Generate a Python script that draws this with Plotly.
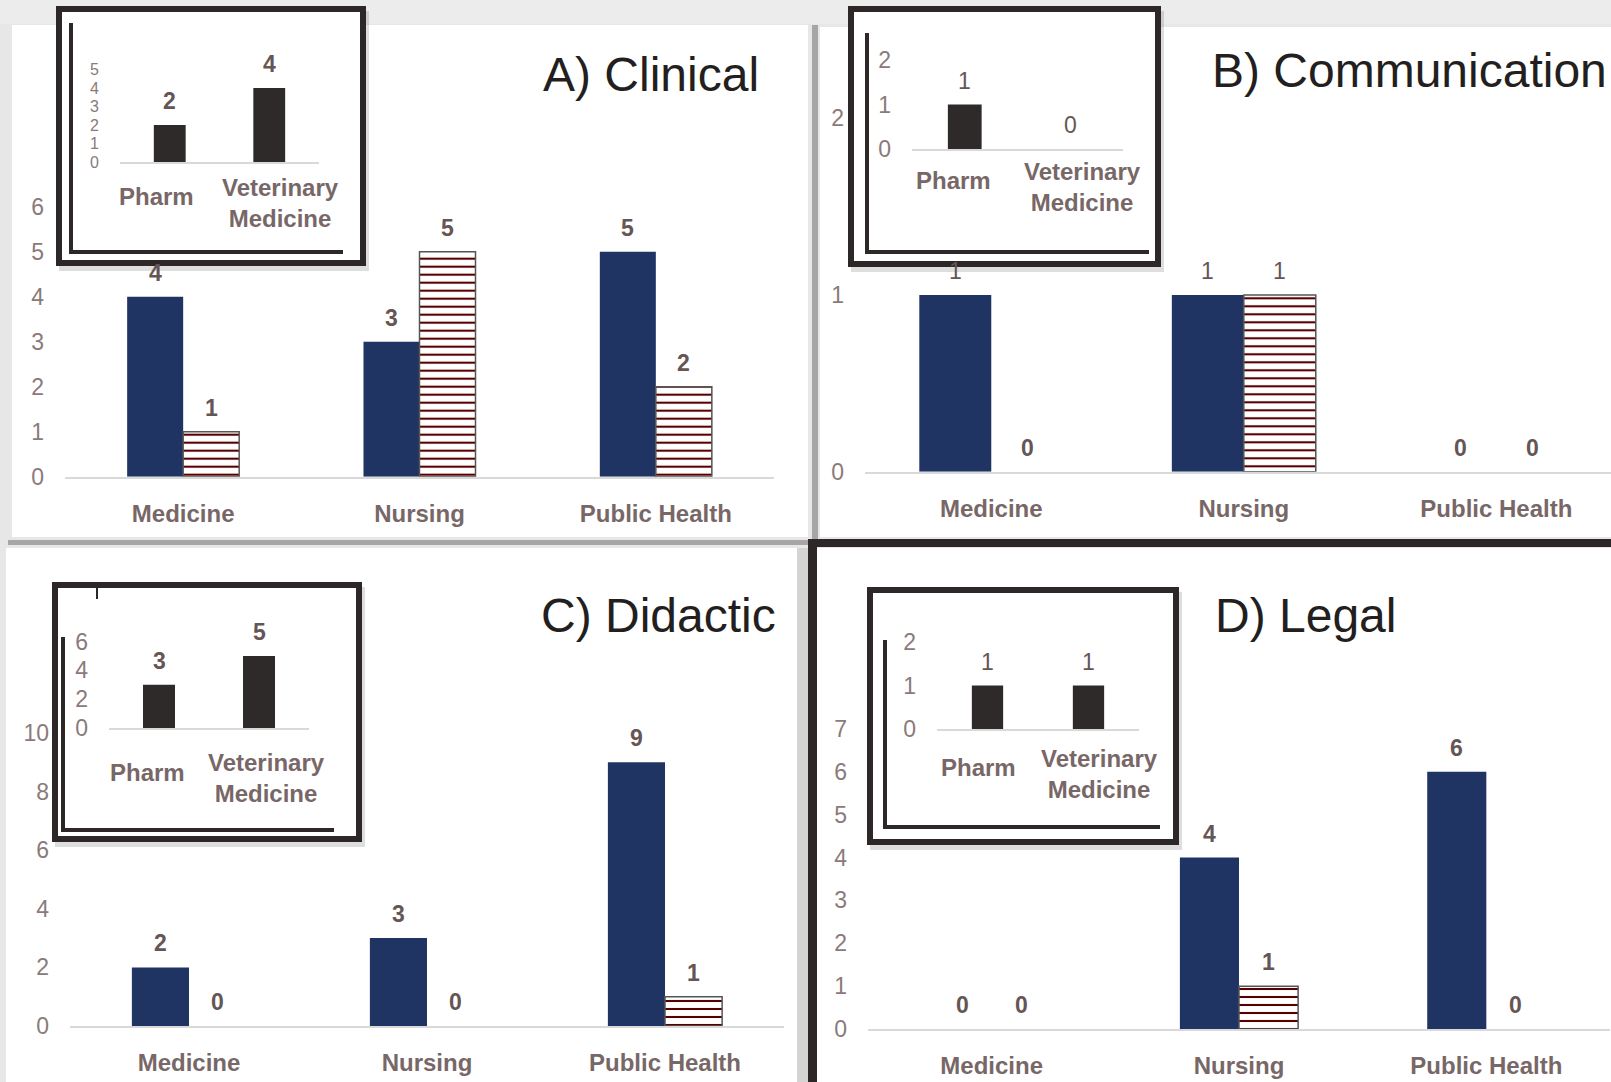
import plotly.graph_objects as go

W, H = 1611, 1082

# ---------------- data ----------------
categories = ["Medicine", "Nursing", "Public Health"]
inset_categories = ["Pharm", "Veterinary<br>Medicine"]

clinical_blue = [4, 3, 5]
clinical_hatch = [1, 5, 2]
clinical_inset = [2, 4]

communication_blue = [1, 1, 0]
communication_hatch = [0, 1, 0]
communication_inset = [1, 0]

didactic_blue = [2, 3, 9]
didactic_hatch = [0, 0, 1]
didactic_inset = [3, 5]

legal_blue = [0, 4, 6]
legal_hatch = [0, 1, 0]
legal_inset = [1, 1]

titles = ["A) Clinical", "B) Communication", "C) Didactic", "D) Legal"]

main_ranges = [(0, 6), (0, 2), (0, 10), (0, 7)]
main_dticks = [1, 1, 2, 1]
inset_ranges = [(0, 5), (0, 2), (0, 6), (0, 2)]
inset_dticks = [1, 1, 2, 1]

# ---------------- styling / layout (pixel geometry) ----------------
NAVY = "#1f3462"
HATCH = "#560000"
INSET_BAR = "#2e2a2a"
DARK = "#2d2727"
TICK_C = "#8a7a7a"
CAT_C = "#786767"
LBL_C = "#655555"
FONT = "Liberation Sans, Arial, sans-serif"

def px(x):
    return x / W

def py(y):
    return 1 - y / H

main_geo = [
    dict(xd=(65, 774), yd=(476.7, 206.7), xr=(-0.5, 2.5), w=0.237),
    dict(xd=(865, 1611), yd=(471.7, 118.3), xr=(-0.5, 2.454), w=0.285),
    dict(xd=(70, 784), yd=(1026, 733), xr=(-0.5, 2.5), w=0.24),
    dict(xd=(868, 1610), yd=(1029, 729), xr=(-0.5, 2.5), w=0.239),
]
inset_geo = [
    dict(xd=(120, 319), yd=(162.3, 69.3), w=0.32, dx=(-0.13, 0.11), dy=(34, 41), tsize=16),
    dict(xd=(912, 1123), yd=(149, 60), w=0.32, dx=(-0.11, 0.12), dy=(31, 38), tsize=23),
    dict(xd=(109, 309), yd=(728, 641.6), w=0.32, dx=(-0.12, 0.07), dy=(44, 50), tsize=23),
    dict(xd=(937, 1139), yd=(729, 642), w=0.31, dx=(-0.09, 0.11), dy=(38, 45), tsize=23),
]
title_pos = [(541, 75), (1210, 70), (539, 615), (1213, 615)]
frames = [(56, 6, 366, 266), (848, 6, 1161, 267), (52, 582, 362, 842), (867, 587, 1179, 845)]
inner_L = [(71, 23, 343, 252), (867, 33, 1149, 252), (63, 637, 334, 830), (885, 640, 1160, 827)]

main_blue = [clinical_blue, communication_blue, didactic_blue, legal_blue]
main_hatch = [clinical_hatch, communication_hatch, didactic_hatch, legal_hatch]
insets = [clinical_inset, communication_inset, didactic_inset, legal_inset]

main_bold_rule = [lambda v: True, lambda v: v == 0, lambda v: True, lambda v: True]
inset_bold = [True, False, True, False]

fig = go.Figure()
layout = dict(
    width=W, height=H,
    autosize=False,
    margin=dict(l=0, r=0, t=0, b=0, pad=0, autoexpand=False),
    paper_bgcolor="#e7e7e7",
    plot_bgcolor="rgba(0,0,0,0)",
    showlegend=False,
    barmode="overlay",
    font=dict(family=FONT),
)
annotations = []
shapes = []

def rect(x0, y0, x1, y1, fill, line_w=0, line_c=None, layer="below"):
    d = dict(type="rect", xref="paper", yref="paper",
             x0=px(x0), x1=px(x1), y0=py(y1), y1=py(y0),
             fillcolor=fill, layer=layer)
    d["line"] = dict(width=line_w, color=line_c or fill)
    return d

shapes.append(rect(0, 0, W, 24, "#ececec"))
shapes.append(rect(12, 25, 808, 537, "white"))
shapes.append(rect(820, 27, W, 537, "white"))
shapes.append(rect(6, 548, 797, H, "white"))
shapes.append(rect(817, 548, W, H, "white"))
shapes.append(rect(8, 540, 811, 545, "#a6a6a6"))
shapes.append(rect(812, 25, 818, 540, "#a6a6a6"))
shapes.append(rect(797, 548, 808, H, "#d4d4d4"))
shapes.append(rect(808, 539, W, 547, DARK))
shapes.append(rect(808, 539, 817, H, DARK))

for (x0, y0, x1, y1) in frames:
    shapes.append(rect(x0 + 3, y0 + 5, x1 + 3, y1 + 5, "rgba(0,0,0,0.13)"))
    shapes.append(rect(x0 + 3, y0 + 3, x1 - 3, y1 - 3, "white", 6, DARK))
for (xv, yt, xr_, yb) in inner_L:
    shapes.append(dict(type="line", xref="paper", yref="paper", layer="below",
                       x0=px(xv), x1=px(xv), y0=py(yt), y1=py(yb),
                       line=dict(color=DARK, width=4)))
    shapes.append(dict(type="line", xref="paper", yref="paper", layer="below",
                       x0=px(xv - 2), x1=px(xr_), y0=py(yb), y1=py(yb),
                       line=dict(color=DARK, width=4)))
shapes.append(dict(type="line", xref="paper", yref="paper", layer="below",
                   x0=px(97), x1=px(97), y0=py(587), y1=py(599),
                   line=dict(color=DARK, width=2)))

def axis_pair(i, xd, yd, xr, yr, dtick, tickvals, ticktext, show_xlabels, ytick_size):
    xa = "xaxis" if i == 1 else f"xaxis{i}"
    ya = "yaxis" if i == 1 else f"yaxis{i}"
    xref = "x" if i == 1 else f"x{i}"
    yref = "y" if i == 1 else f"y{i}"
    layout[xa] = dict(
        domain=[px(xd[0]), px(xd[1])], anchor=yref, range=list(xr),
        tickmode="array", tickvals=tickvals, ticktext=ticktext,
        showticklabels=show_xlabels, automargin=False,
        showgrid=False, zeroline=False, showline=True, linecolor="#d9d9d9",
        linewidth=2, ticks="", ticklabelstandoff=14,
        tickfont=dict(size=24, color=CAT_C, family=FONT, weight="bold"),
        fixedrange=True,
    )
    layout[ya] = dict(
        domain=[py(yd[0]), py(yd[1])], anchor=xref, range=list(yr),
        tickmode="linear", tick0=0, dtick=dtick, automargin=False,
        showgrid=False, zeroline=False, showline=False, ticks="",
        ticklabelstandoff=20,
        tickfont=dict(size=ytick_size, color=TICK_C, family=FONT),
        fixedrange=True,
    )
    return xref, yref

def label(xref, yref, x, v, bold):
    t = f"<b>{v}</b>" if bold else f"{v}"
    annotations.append(dict(xref=xref, yref=yref, x=x, y=v, text=t,
                            showarrow=False, yanchor="middle", xanchor="center",
                            yshift=24, font=dict(size=23, color=LBL_C, family=FONT)))

for k in range(4):
    g = main_geo[k]
    i = k + 1
    xs = list(range(len(categories)))
    xref, yref = axis_pair(i, g["xd"], g["yd"], g["xr"], main_ranges[k], main_dticks[k],
                           xs, categories, True, 23)
    w = g["w"]
    fig.add_trace(go.Bar(x=xs, y=main_blue[k], width=w, offset=-w,
                         marker=dict(color=NAVY, line=dict(width=0)),
                         xaxis=xref, yaxis=yref, hoverinfo="skip"))
    fig.add_trace(go.Bar(x=xs, y=main_hatch[k], width=w, offset=0,
                         marker=dict(color="white",
                                     line=dict(color="#555555",
                                               width=[1.5 if v > 0 else 0 for v in main_hatch[k]]),
                                     pattern=dict(shape="-", fgcolor=HATCH, bgcolor="white",
                                                  size=8, solidity=0.26, fillmode="replace")),
                         xaxis=xref, yaxis=yref, hoverinfo="skip"))
    for xi, v in zip(xs, main_blue[k]):
        label(xref, yref, xi - w / 2, v, main_bold_rule[k](v))
    for xi, v in zip(xs, main_hatch[k]):
        label(xref, yref, xi + w / 2, v, main_bold_rule[k](v))
    tx, ty = title_pos[k]
    annotations.append(dict(xref="paper", yref="paper", x=px(tx), y=py(ty), text=titles[k],
                            showarrow=False, xanchor="left", yanchor="middle",
                            font=dict(size=48, color="#231f20", family=FONT)))

for k in range(4):
    g = inset_geo[k]
    i = k + 5
    xs = list(range(len(inset_categories)))
    xref, yref = axis_pair(i, g["xd"], g["yd"], (-0.5, 1.5), inset_ranges[k], inset_dticks[k],
                           xs, inset_categories, False, g["tsize"])
    w = g["w"]
    fig.add_trace(go.Bar(x=xs, y=insets[k], width=w, offset=-w / 2,
                         marker=dict(color=INSET_BAR, line=dict(width=0)),
                         xaxis=xref, yaxis=yref, hoverinfo="skip"))
    for xi, v in zip(xs, insets[k]):
        label(xref, yref, xi, v, inset_bold[k])
    for xi, cat, ddx, ddy in zip(xs, inset_categories, g["dx"], g["dy"]):
        annotations.append(dict(xref=xref, yref=yref, x=xi + ddx, y=0, text=cat,
                                showarrow=False, xanchor="center", yanchor="middle",
                                yshift=-ddy, align="center",
                                font=dict(size=24, color=CAT_C, family=FONT, weight="bold")))

layout["annotations"] = annotations
layout["shapes"] = shapes
fig.update_layout(**layout)

post = ("document.documentElement.style.margin='0px';"
        "document.body.style.margin='0px';"
        "document.body.style.overflow='hidden';"
        "var gd=document.getElementById('{plot_id}');"
        "gd.style.position='fixed';gd.style.top='0px';gd.style.left='0px';")
fig.write_html("out.html", config=dict(displayModeBar=False, staticPlot=True),
               post_script=post)
